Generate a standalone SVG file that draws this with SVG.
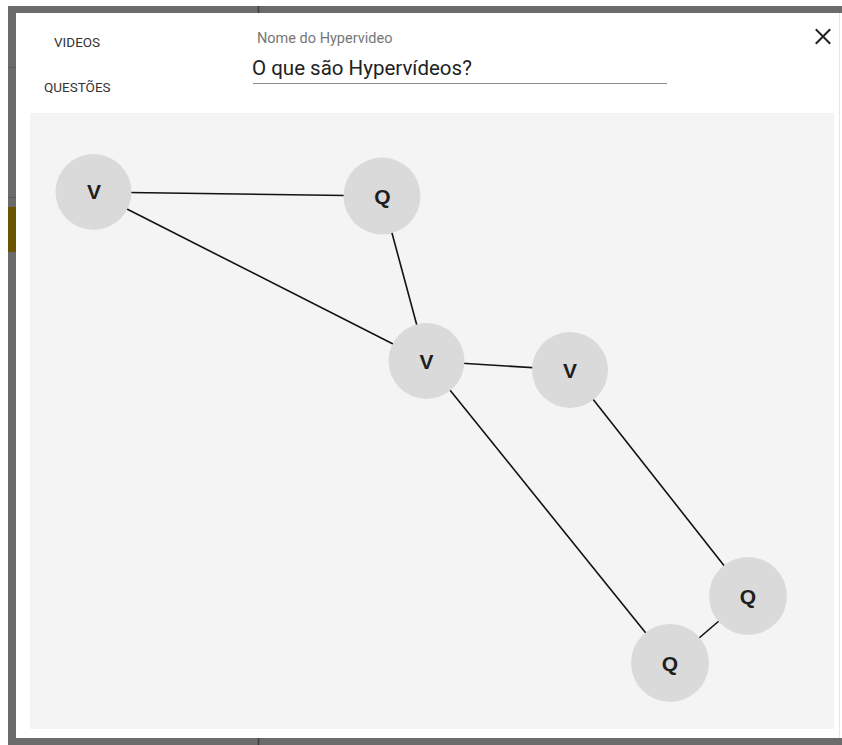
<svg xmlns="http://www.w3.org/2000/svg" width="842" height="745" viewBox="0 0 842 745">
<style>
.frame{fill:#6b6b6b}
.edge{stroke:#111;stroke-width:1.6;fill:none}
.node circle{fill:#dadada}
.node text{font-family:"Liberation Sans",Arial,sans-serif;font-weight:bold;font-size:21px;fill:#1e1e1e;text-anchor:middle}
.tab{font-family:Roboto,"Liberation Sans",sans-serif;font-size:13.5px;fill:#333}
</style>
<rect width="842" height="745" fill="#ffffff"/>
<!-- background frame -->
<rect class="frame" x="8" y="6" width="834" height="739"/>
<rect x="8" y="207" width="8" height="45" fill="#6b5300"/>
<line x1="8" y1="67.5" x2="16" y2="67.5" stroke="#5a5a5a" stroke-width="1"/>
<line x1="8" y1="197.5" x2="16" y2="197.5" stroke="#5a5a5a" stroke-width="1"/>
<line x1="258.5" y1="6" x2="258.5" y2="13" stroke="#3e3e3e" stroke-width="1.5"/>
<line x1="258.5" y1="738" x2="258.5" y2="745" stroke="#3e3e3e" stroke-width="1.5"/>
<!-- dialog -->
<rect x="16" y="13" width="826" height="725" fill="#ffffff"/>
<line x1="839.5" y1="13" x2="839.5" y2="738" stroke="#e6e6e6" stroke-width="1"/>
<text class="tab" x="54" y="46.5">VIDEOS</text>
<text class="tab" x="44" y="92">QUESTÕES</text>
<text x="257" y="43" font-family="Roboto,'Liberation Sans',sans-serif" font-size="14.5" fill="#777">Nome do Hypervideo</text>
<text x="252" y="74.5" font-family="Roboto,'Liberation Sans',sans-serif" font-size="20.5" fill="#222">O que são Hypervídeos?</text>
<line x1="253" y1="83.5" x2="667" y2="83.5" stroke="#8a8a8a" stroke-width="1"/>
<g id="close" stroke="#222" stroke-width="2" stroke-linecap="square">
<line x1="816.5" y1="30" x2="829.5" y2="43"/>
<line x1="829.5" y1="30" x2="816.5" y2="43"/>
</g>
<rect x="30" y="113" width="804" height="616" fill="#f4f4f4"/>
<g id="connectors">
<line class="edge" x1="93.5" y1="192" x2="382" y2="196"/>
<line class="edge" x1="93.5" y1="192" x2="426.5" y2="361"/>
<line class="edge" x1="382" y1="196" x2="426.5" y2="361"/>
<line class="edge" x1="426.5" y1="361" x2="570" y2="370"/>
<line class="edge" x1="426.5" y1="361" x2="670" y2="663"/>
<line class="edge" x1="570" y1="370" x2="748" y2="596"/>
<line class="edge" x1="748" y1="596" x2="670" y2="663"/>
</g>
<g id="v1" class="node"><circle cx="93.5" cy="192" r="38"/><text x="94" y="199">V</text></g>
<g id="q1" class="node"><circle cx="382" cy="196" r="38.5"/><text x="382.5" y="204">Q</text></g>
<g id="v2" class="node"><circle cx="426.5" cy="361" r="38"/><text x="426.5" y="368.5">V</text></g>
<g id="v3" class="node"><circle cx="570" cy="370" r="38"/><text x="570" y="377.5">V</text></g>
<g id="q2" class="node"><circle cx="748" cy="596" r="39"/><text x="748" y="603.5">Q</text></g>
<g id="q3" class="node"><circle cx="670" cy="663" r="39"/><text x="670" y="670.5">Q</text></g>
</svg>
